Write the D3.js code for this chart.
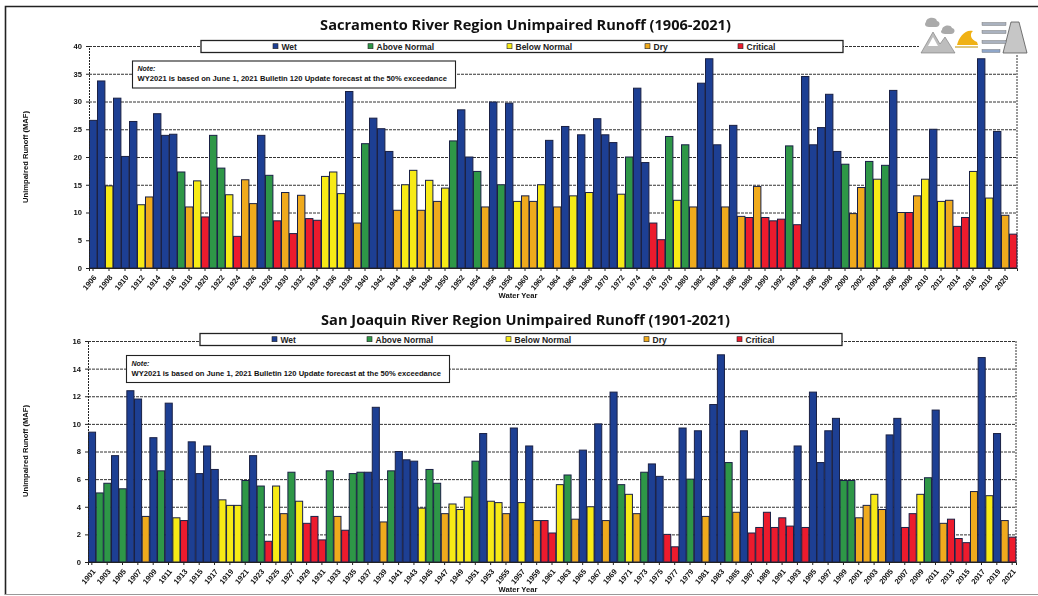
<!DOCTYPE html>
<html>
<head>
<meta charset="utf-8">
<script src="https://cdnjs.cloudflare.com/ajax/libs/d3/7.8.5/d3.min.js"></script>
<style>
html, body { margin: 0; padding: 0; background: #fff; }
svg { display: block; filter: blur(0.45px); }
text { font-family: "Liberation Sans", sans-serif; fill: #111; }
.title { font-family: "Open Sans", sans-serif; font-weight: 700; font-size: 14.6px; }
.legend-text { font-size: 8.5px; font-weight: 700; fill: #222; }
.axis-title { font-size: 7.6px; font-weight: 700; }
.tick text { font-size: 7.6px; font-weight: 700; }
</style>
</head>
<body>
<svg id="chart"></svg>
<script>
var width = 1038,
    height = 596

var typeNames = ["Wet", "Above Normal", "Below Normal", "Dry", "Critical"]
var typeColors = ["#1d3f93", "#2e9747", "#f7ea16", "#efaa1d", "#ec1b2d"]

// W=Wet A=Above Normal B=Below Normal D=Dry C=Critical
var sacYears = d3.range(1906, 2022)
var sacValues = [
    26.6, 33.7, 14.8, 30.6, 20.1, 26.4, 11.4, 12.8, 27.8, 23.9,
    24.1, 17.3, 11.0, 15.7, 9.2, 23.9, 18.0, 13.2, 5.7, 15.9,
    11.6, 23.9, 16.7, 8.5, 13.6, 6.2, 13.1, 8.9, 8.6, 16.5,
    17.3, 13.4, 31.8, 8.1, 22.4, 27.0, 25.1, 21.0, 10.4, 15.0,
    17.6, 10.4, 15.8, 12.0, 14.4, 22.9, 28.5, 20.0, 17.4, 11.0,
    29.9, 15.0, 29.7, 12.0, 13.0, 12.0, 15.0, 23.0, 11.0, 25.5,
    13.0, 24.0, 13.6, 26.9, 24.0, 22.6, 13.3, 20.0, 32.4, 19.0,
    8.1, 5.1, 23.7, 12.2, 22.2, 11.0, 33.3, 37.7, 22.2, 11.0,
    25.7, 9.3, 9.1, 14.7, 9.1, 8.5, 8.8, 22.0, 7.8, 34.5,
    22.2, 25.3, 31.3, 21.0, 18.7, 9.8, 14.5, 19.2, 16.0, 18.5,
    32.0, 10.0, 10.0, 13.0, 16.0, 25.0, 12.0, 12.2, 7.5, 9.1,
    17.4, 37.7, 12.6, 24.6, 9.5, 6.1
]
var sacTypes = ("WWBWWWBDWW" + "WADBCAABCD" + "DWACDCDCCB" + "BBWDAWWWDB" + "BDBDBAWWAD" +
    "WAWBDDBWDW" + "BWBWWWBAWW" + "CCABADWWWD" + "WDCDCCCACW" + "WWWWADDABA" +
    "WDCDBWBDCC" + "BWBWDC").split("")

var sjYears = d3.range(1901, 2022)
var sjValues = [
    9.4, 5.0, 5.7, 7.7, 5.3, 12.4, 11.8, 3.3, 9.0, 6.6,
    11.5, 3.2, 3.0, 8.7, 6.4, 8.4, 6.7, 4.5, 4.1, 4.1,
    5.9, 7.7, 5.5, 1.5, 5.5, 3.5, 6.5, 4.4, 2.8, 3.3,
    1.6, 6.6, 3.3, 2.3, 6.4, 6.5, 6.5, 11.2, 2.9, 6.6,
    8.0, 7.4, 7.3, 3.9, 6.7, 5.7, 3.5, 4.2, 3.8, 4.7,
    7.3, 9.3, 4.4, 4.3, 3.5, 9.7, 4.3, 8.4, 3.0, 3.0,
    2.1, 5.6, 6.3, 3.1, 8.1, 4.0, 10.0, 3.0, 12.3, 5.6,
    4.9, 3.5, 6.5, 7.1, 6.2, 2.0, 1.1, 9.7, 6.0, 9.5,
    3.3, 11.4, 15.0, 7.2, 3.6, 9.5, 2.1, 2.5, 3.6, 2.5,
    3.2, 2.6, 8.4, 2.5, 12.3, 7.2, 9.5, 10.4, 5.9, 5.9,
    3.2, 4.1, 4.9, 3.8, 9.2, 10.4, 2.5, 3.5, 4.9, 6.1,
    11.0, 2.8, 3.1, 1.7, 1.4, 5.1, 14.8, 4.8, 9.3, 3.0,
    1.8
]
var sjTypes = ("WAAWAWWDWA" + "WBCWWWWBBB" + "AWACBDABCC" + "CADCAAWWDA" + "WWWBAADBBB" +
    "AWBBDWBWDC" + "CBADWBWDWA" + "BDAWWCCWAW" + "DWWADWCCCC" + "CCWCWWWWAA" +
    "DDBDWWCCBA" + "WDCCCDWBWD" + "C").split("")

var sacTicks = [0, 5, 10, 15, 20, 25, 30, 35, 40]
var sjTicks = [0, 2, 4, 6, 8, 10, 12, 14, 16]
var typeIndex = { W: 0, A: 1, B: 2, D: 3, C: 4 }

var svg = d3.select("#chart")
    .attr("width", width)
    .attr("height", height)

// page frame from the scan
svg.append("path").attr("d", "M5.5,595V6.5H1038").attr("fill", "none").attr("stroke", "#222").attr("stroke-width", 1.6)
svg.append("path").attr("d", "M5,594.5H1038").attr("fill", "none").attr("stroke", "#999").attr("stroke-width", 1)

function drawPanel(opt) {
    var x = d3.scaleBand().domain(opt.years).range([opt.left, opt.right]).padding(0)
    var y = d3.scaleLinear().domain(opt.domain).range([opt.bottom, opt.top])

    var grid = svg.append("g")
        .attr("transform", "translate(" + opt.left + ",0)")
        .call(d3.axisLeft(y).tickValues(opt.ticks).tickSize(-(opt.right - opt.left)).tickFormat(""))
    grid.select(".domain").remove()
    grid.selectAll("line")
        .attr("stroke", "#333")
        .attr("stroke-dasharray", "3,1")
    grid.append("line")
        .attr("x1", opt.right - opt.left).attr("x2", opt.right - opt.left)
        .attr("y1", opt.top).attr("y2", opt.bottom)
        .attr("stroke", "#333").attr("stroke-dasharray", "2,1")

    svg.append("g").selectAll("rect")
        .data(opt.values)
        .enter().append("rect")
        .attr("x", function (d, i) { return x(opt.years[i]) + 0.5 })
        .attr("y", function (d) { return y(d) })
        .attr("width", x.bandwidth() - 0.6)
        .attr("height", function (d) { return y(0) - y(d) })
        .attr("fill", function (d, i) { return typeColors[typeIndex[opt.types[i]]] })
        .attr("stroke", "#1a2145")
        .attr("stroke-width", 1)

    var yAxis = svg.append("g")
        .attr("transform", "translate(" + opt.left + ",0)")
        .call(d3.axisLeft(y).tickValues(opt.ticks).tickSize(3).tickPadding(4))
    yAxis.select(".domain").attr("stroke", "#222").attr("stroke-dasharray", "2,1")
    yAxis.selectAll("line").attr("stroke", "#222")

    var labelYears = opt.years.filter(function (d, i) { return i % 2 == 0 })
    var xAxis = svg.append("g")
        .attr("transform", "translate(0," + opt.bottom + ")")
        .call(d3.axisBottom(x).tickValues(labelYears).tickFormat(d3.format("d")).tickSize(3))
    xAxis.select(".domain").attr("stroke", "#222")
    xAxis.selectAll("line").attr("stroke", "#222")
    xAxis.selectAll("text")
        .attr("x", 0).attr("y", 0)
        .attr("dy", "0.35em")
        .attr("text-anchor", "end")
        .attr("transform", "translate(2,8) rotate(-50)")

    svg.append("text").attr("class", "title")
        .attr("x", opt.titleX).attr("y", opt.titleY)
        .attr("text-anchor", "middle")
        .text(opt.title)

    svg.append("text").attr("class", "axis-title")
        .attr("transform", "translate(" + opt.yTitleX + "," + opt.yTitleY + ") rotate(-90)")
        .attr("text-anchor", "middle")
        .text("Unimpaired Runoff (MAF)")
    svg.append("text").attr("class", "axis-title")
        .attr("x", opt.xTitleX).attr("y", opt.xTitleY)
        .attr("text-anchor", "middle")
        .text("Water Year")

    // legend bar
    var lg = svg.append("g").attr("transform", "translate(" + opt.legendX + "," + opt.legendY + ")")
    lg.append("rect").attr("width", 642).attr("height", 12)
        .attr("fill", "#fff").attr("stroke", "#222").attr("stroke-width", 1.3)
    var offsets = [72, 167, 306, 444, 537]
    typeNames.forEach(function (name, i) {
        lg.append("rect").attr("x", offsets[i]).attr("y", 3.2).attr("width", 5).attr("height", 5)
            .attr("fill", typeColors[i]).attr("stroke", "#222").attr("stroke-width", 0.6)
        lg.append("text").attr("class", "legend-text")
            .attr("x", offsets[i] + 8.5).attr("y", 9.2)
            .text(name)
    })

    // note box
    var nt = svg.append("g").attr("transform", "translate(" + opt.noteX + "," + opt.noteY + ")")
    nt.append("rect").attr("width", 323).attr("height", 27)
        .attr("fill", "#fff").attr("stroke", "#222").attr("stroke-width", 1.1)
    nt.append("text").attr("x", 5).attr("y", 10)
        .style("font-size", "7px").style("font-weight", 700).style("font-style", "italic")
        .text("Note:")
    nt.append("text").attr("x", 5).attr("y", 20)
        .style("font-size", "7.6px").style("font-weight", 700)
        .text("WY2021 is based on June 1, 2021 Bulletin 120 Update forecast at the 50% exceedance")
}

drawPanel({
    years: sacYears, values: sacValues, types: sacTypes, ticks: sacTicks, domain: [0, 40],
    left: 89, right: 1017, top: 46, bottom: 268,
    title: "Sacramento River Region Unimpaired Runoff (1906-2021)", titleX: 525.5, titleY: 30,
    yTitleX: 28, yTitleY: 157, xTitleX: 518, xTitleY: 297.5,
    legendX: 201, legendY: 40.5, noteX: 132.5, noteY: 61
})

drawPanel({
    years: sjYears, values: sjValues, types: sjTypes, ticks: sjTicks, domain: [0, 16],
    left: 88, right: 1016, top: 341, bottom: 562,
    title: "San Joaquin River Region Unimpaired Runoff (1901-2021)", titleX: 525.5, titleY: 325,
    yTitleX: 28, yTitleY: 451, xTitleX: 518, xTitleY: 592,
    legendX: 200, legendY: 333.5, noteX: 126.5, noteY: 355.5
})

// logo, top right corner
var logo = svg.append("g")
logo.append("rect").attr("x", 919).attr("y", 14).attr("width", 112).attr("height", 40).attr("fill", "#fff")
logo.append("path").attr("d", "M921,53L933,32L940,44L945,37L955,53Z").attr("fill", "#bdbdbd").attr("stroke", "#777").attr("stroke-width", 0.6)
logo.append("path").attr("d", "M928,46L933,37L938,46Z").attr("fill", "#fff")
logo.append("path").attr("d", "M926,22C926,17 936,16 937,21C941,22 940,27 936,27H929C925,27 924,24 926,22Z").attr("fill", "#aaa")
logo.append("path").attr("d", "M942,30C942,25 951,24 952,28C956,29 955,34 951,34H945C941,34 940,31 942,30Z").attr("fill", "#aaa")
logo.append("path").attr("d", "M957,45C959,37 965,29 973,31C969,34 971,40 977,42L978,45Z").attr("fill", "#f0b114")
logo.append("path").attr("d", "M955,47H978").attr("stroke", "#c9a227").attr("stroke-width", 1.2)
logo.append("path").attr("d", "M1011,22H1019L1027,53H1003Z").attr("fill", "#c6c6c6").attr("stroke", "#555").attr("stroke-width", 0.8)
var logoRows = [24, 32, 42, 51]
logoRows.forEach(function (ly, i) {
    logo.append("rect").attr("x", 982).attr("y", ly - 1.5).attr("width", i == 3 ? 18 : 24).attr("height", 3)
        .attr("fill", i == 3 ? "#8fa6c9" : "#aab2bf").attr("stroke", "#666").attr("stroke-width", 0.4)
})
</script>
</body>
</html>
